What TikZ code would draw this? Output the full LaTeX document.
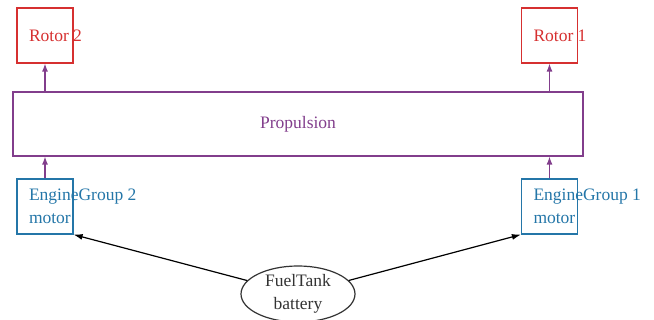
\documentclass[tikz,border=0pt]{standalone}
\usepackage{fontspec}
\setmainfont{Liberation Serif}
\usetikzlibrary{shapes.geometric,arrows.meta}
\definecolor{rotred}{RGB}{214,48,48}
\definecolor{proppurple}{RGB}{130,62,140}
\definecolor{engblue}{RGB}{36,118,168}
\tikzset{
  base/.style={font=\fontsize{17.5}{23}\selectfont, line width=1.2pt},
  rotorbox/.style={base, draw=rotred, text=rotred, minimum width=56pt, minimum height=55pt, inner xsep=12pt, inner ysep=0pt, align=left},
  enginebox/.style={base, draw=engblue, text=engblue, minimum width=56pt, minimum height=55pt, inner xsep=12pt, inner ysep=0pt, align=left},
  propbox/.style={base, draw=proppurple, text=proppurple, minimum width=570pt, minimum height=64pt},
  fuelnode/.style={base, draw=black!80, text=black!80, ellipse, minimum width=114pt, minimum height=56pt, inner sep=0pt, align=center},
  uparrow/.style={draw=proppurple, line width=1.2pt, -{Latex[length=8pt,width=6pt]}},
  fuelarrow/.style={draw=black, line width=1.2pt, -{Latex[length=9pt,width=6pt]}}
}
\begin{document}
\begin{tikzpicture}[x=1pt,y=-1pt]
\useasboundingbox (0,0) rectangle (654,320);
\node[rotorbox] (rotor2) at (45,35.5) {\makebox[32pt][l]{Rotor 2}};
\node[rotorbox] (rotor1) at (549.5,35.5) {\makebox[32pt][l]{Rotor 1}};
\node[propbox] (prop) at (298,124) {Propulsion};
\node[enginebox] (eng2) at (45,206.5) {\makebox[32pt][l]{EngineGroup 2}\\\makebox[32pt][l]{motor}};
\node[enginebox] (eng1) at (549.5,206.5) {\makebox[32pt][l]{EngineGroup 1}\\\makebox[32pt][l]{motor}};
\node[fuelnode] (fuel) at (298,294) {FuelTank\\battery};
\draw[uparrow] (prop.north -| rotor2.south) -- (rotor2.south);
\draw[uparrow] (prop.north -| rotor1.south) -- (rotor1.south);
\draw[uparrow] (eng2.north) -- (eng2.north |- prop.south);
\draw[uparrow] (eng1.north) -- (eng1.north |- prop.south);
\draw[fuelarrow] (fuel) -- (eng2.south east);
\draw[fuelarrow] (fuel) -- (eng1.south west);
\end{tikzpicture}
\end{document}
